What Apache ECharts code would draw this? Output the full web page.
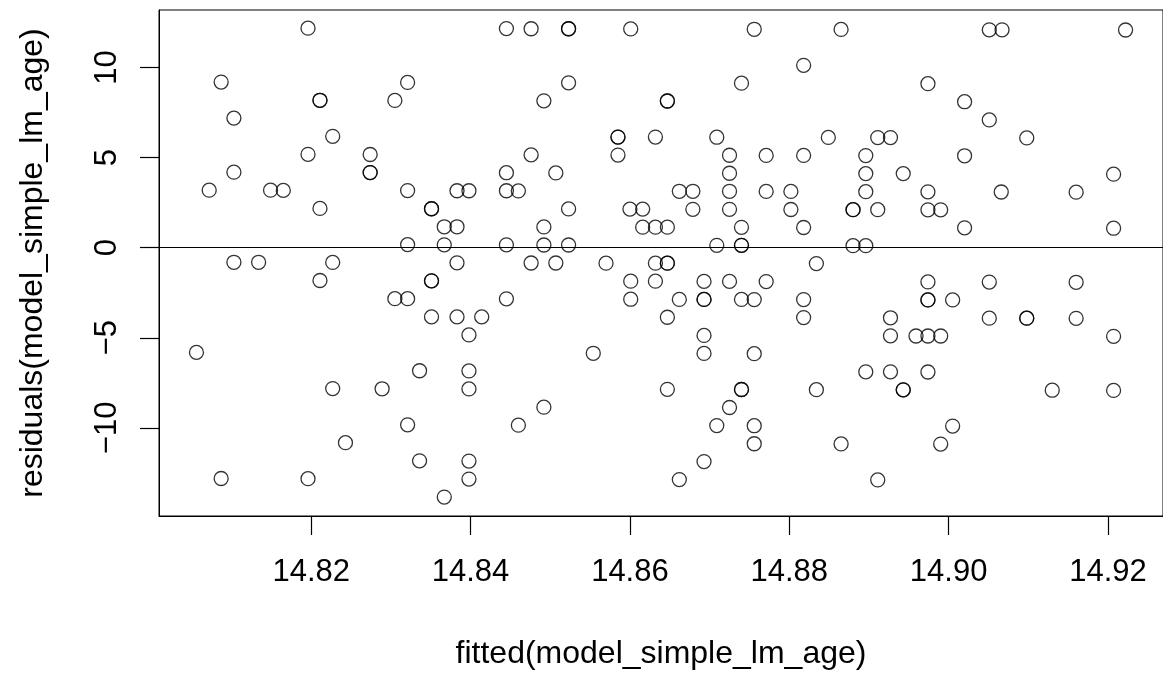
<!DOCTYPE html>
<html>
<head>
<meta charset="utf-8">
<title>residuals vs fitted</title>
<script src="https://cdn.jsdelivr.net/npm/echarts@6/dist/echarts.min.js"></script>
<style>
html, body { margin: 0; padding: 0; background: #fff; }
#chart { width: 1163px; height: 675px; }
</style>
</head>
<body>
<div id="chart"></div>
<script>
// fitted values (x) and residuals (y)
var fittedVals = [
    14.8196, 14.8087, 14.8211, 14.8211, 14.8305, 14.8321, 14.8103, 14.8227, 14.8196, 14.8274,
    14.8274, 14.8274, 14.8103, 14.8072, 14.8149, 14.8165, 14.8211, 14.8321, 14.8321, 14.8103,
    14.8134, 14.8227, 14.8211, 14.8305, 14.8321, 14.8056, 14.8227, 14.8289, 14.8321, 14.8243,
    14.8087, 14.8196,
    14.8445, 14.8476, 14.8523, 14.8523, 14.8601, 14.8523, 14.8492, 14.8585, 14.8585, 14.8585,
    14.8632, 14.8476, 14.8445, 14.8507, 14.8383, 14.8398, 14.8445, 14.8460, 14.8351, 14.8351,
    14.8523, 14.8600, 14.8616, 14.8367, 14.8383, 14.8492, 14.8616, 14.8632, 14.8647, 14.8367,
    14.8445, 14.8492, 14.8523, 14.8383, 14.8476, 14.8507, 14.8570, 14.8632, 14.8647, 14.8647,
    14.8351, 14.8351, 14.8601, 14.8632, 14.8445, 14.8601, 14.8351, 14.8383, 14.8414,
    14.8398, 14.8336, 14.8398, 14.8398, 14.8554, 14.8492, 14.8460, 14.8336, 14.8398, 14.8398,
    14.8367,
    14.8756, 14.8865, 14.8818, 14.8740, 14.8647, 14.8647, 14.8709, 14.8849, 14.8911, 14.8927,
    14.8725, 14.8771, 14.8818, 14.8896, 14.8725, 14.8896, 14.8943, 14.8662, 14.8679, 14.8725,
    14.8771, 14.8802, 14.8896, 14.8679, 14.8725, 14.8802, 14.8880, 14.8880, 14.8911, 14.8740,
    14.8818, 14.8709, 14.8740, 14.8740, 14.8880, 14.8896, 14.8834, 14.8693, 14.8725, 14.8771,
    14.8662, 14.8693, 14.8693, 14.8740, 14.8756, 14.8818, 14.8647, 14.8818, 14.8927,
    14.8693, 14.8927, 14.8693, 14.8756, 14.8896, 14.8927, 14.8647, 14.8740, 14.8740, 14.8834,
    14.8943, 14.8725, 14.8709, 14.8756, 14.8756, 14.8865, 14.8693, 14.8662, 14.8911,
    14.9051, 14.9067, 14.9222, 14.8974, 14.9020, 14.9051, 14.9098, 14.9020, 14.9207, 14.8974,
    14.9066, 14.9160, 14.8974, 14.8990, 14.9020, 14.9207, 14.8974, 14.9051, 14.9160, 14.8974,
    14.8974, 14.9005, 14.9051, 14.9098, 14.9098, 14.9160,
    14.8959, 14.8974, 14.8990, 14.9207, 14.8974, 14.8943, 14.9130, 14.9207, 14.9005, 14.8990
];
var residVals = [
    12.18, 9.19, 8.18, 8.18, 8.17, 9.17, 7.19, 6.18, 5.18, 5.17,
    4.17, 4.17, 4.19, 3.19, 3.19, 3.18, 2.18, 3.17, 0.17, -0.81,
    -0.81, -0.82, -1.82, -2.83, -2.83, -5.81, -7.82, -7.83, -9.83, -10.82,
    -12.81, -12.82,
    12.16, 12.15, 12.15, 12.15, 12.14, 9.15, 8.15, 6.14, 6.14, 5.14,
    6.14, 5.15, 4.16, 4.15, 3.16, 3.16, 3.16, 3.15, 2.16, 2.16,
    2.15, 2.14, 2.14, 1.16, 1.16, 1.15, 1.14, 1.14, 1.14, 0.16,
    0.16, 0.15, 0.15, -0.84, -0.85, -0.85, -0.86, -0.86, -0.86, -0.86,
    -1.84, -1.84, -1.86, -1.86, -2.84, -2.86, -3.84, -3.84, -3.84,
    -4.84, -6.83, -6.84, -7.84, -5.86, -8.85, -9.85, -11.83, -11.84, -12.84,
    -13.84,
    12.12, 12.11, 10.12, 9.13, 8.14, 8.14, 6.13, 6.12, 6.11, 6.11,
    5.13, 5.12, 5.12, 5.11, 4.13, 4.11, 4.11, 3.13, 3.13, 3.13,
    3.12, 3.12, 3.11, 2.13, 2.13, 2.12, 2.11, 2.11, 2.11, 1.13,
    1.12, 0.13, 0.13, 0.13, 0.11, 0.11, -0.88, -1.87, -1.87, -1.88,
    -2.87, -2.87, -2.87, -2.87, -2.88, -2.88, -3.86, -3.88, -3.89,
    -4.87, -4.89, -5.87, -5.88, -6.89, -6.89, -7.86, -7.87, -7.87, -7.88,
    -7.89, -8.87, -9.87, -9.88, -10.88, -10.89, -11.87, -12.87, -12.89,
    12.09, 12.09, 12.08, 9.10, 8.10, 7.09, 6.09, 5.10, 4.08, 3.10,
    3.09, 3.08, 2.10, 2.10, 1.10, 1.08, -1.90, -1.91, -1.92, -2.90,
    -2.90, -2.90, -3.91, -3.91, -3.91, -3.92,
    -4.90, -4.90, -4.90, -4.92, -6.90, -7.89, -7.91, -7.92, -9.90, -10.90
];
var xTicks = [14.82, 14.84, 14.86, 14.88, 14.90, 14.92];
var yTicks = [-10, -5, 0, 5, 10];
var hLine = 0;

var fontFam = '"Liberation Sans", Arial, sans-serif';
var points = [];
for (var i = 0; i < fittedVals.length; i++) {
    points.push([fittedVals[i], residVals[i]]);
}

var myChart = echarts.init(document.getElementById('chart'));
var option = {
    backgroundColor: '#fff',
    animation: false,
    grid: {
        left: 159,
        top: 10,
        right: -6,
        bottom: 154,
        show: true,
        borderColor: '#000',
        borderWidth: 1
    },
    xAxis: {
        type: 'value',
        min: 14.8009,
        max: 14.9269,
        splitLine: { show: false },
        axisLine: { show: true, onZero: false, lineStyle: { color: '#000', width: 1 } },
        axisTick: {
            show: true,
            inside: false,
            customValues: xTicks,
            length: 19,
            lineStyle: { color: '#000', width: 1.2 }
        },
        axisLabel: {
            customValues: xTicks,
            formatter: function (v) { return v.toFixed(2); },
            color: '#000',
            fontSize: 31,
            fontFamily: fontFam,
            margin: 41
        },
        name: 'fitted(model_simple_lm_age)',
        nameLocation: 'middle',
        nameGap: 122,
        nameTextStyle: { color: '#000', fontSize: 32, fontFamily: fontFam }
    },
    yAxis: {
        type: 'value',
        min: -14.89,
        max: 13.19,
        splitLine: { show: false },
        axisLine: { show: true, onZero: false, lineStyle: { color: '#000', width: 1 } },
        axisTick: {
            show: true,
            inside: false,
            customValues: yTicks,
            length: 19,
            lineStyle: { color: '#000', width: 1.2 }
        },
        axisLabel: {
            customValues: yTicks,
            rotate: 90,
            formatter: function (v) { return String(v).replace('-', '\u2212'); },
            color: '#000',
            fontSize: 31,
            fontFamily: fontFam,
            margin: 36
        },
        name: 'residuals(model_simple_lm_age)',
        nameLocation: 'middle',
        nameGap: 110,
        nameTextStyle: { color: '#000', fontSize: 32, fontFamily: fontFam }
    },
    series: [{
        type: 'scatter',
        data: points,
        symbol: 'circle',
        symbolSize: 14,
        itemStyle: {
            color: 'rgba(0,0,0,0)',
            borderColor: '#000',
            borderWidth: 1.3
        },
        emphasis: { disabled: true },
        markLine: {
            silent: true,
            symbol: ['none', 'none'],
            label: { show: false },
            lineStyle: { color: '#000', width: 1, type: 'solid' },
            data: [{ yAxis: hLine }]
        }
    }]
};
myChart.setOption(option);
</script>
</body>
</html>
